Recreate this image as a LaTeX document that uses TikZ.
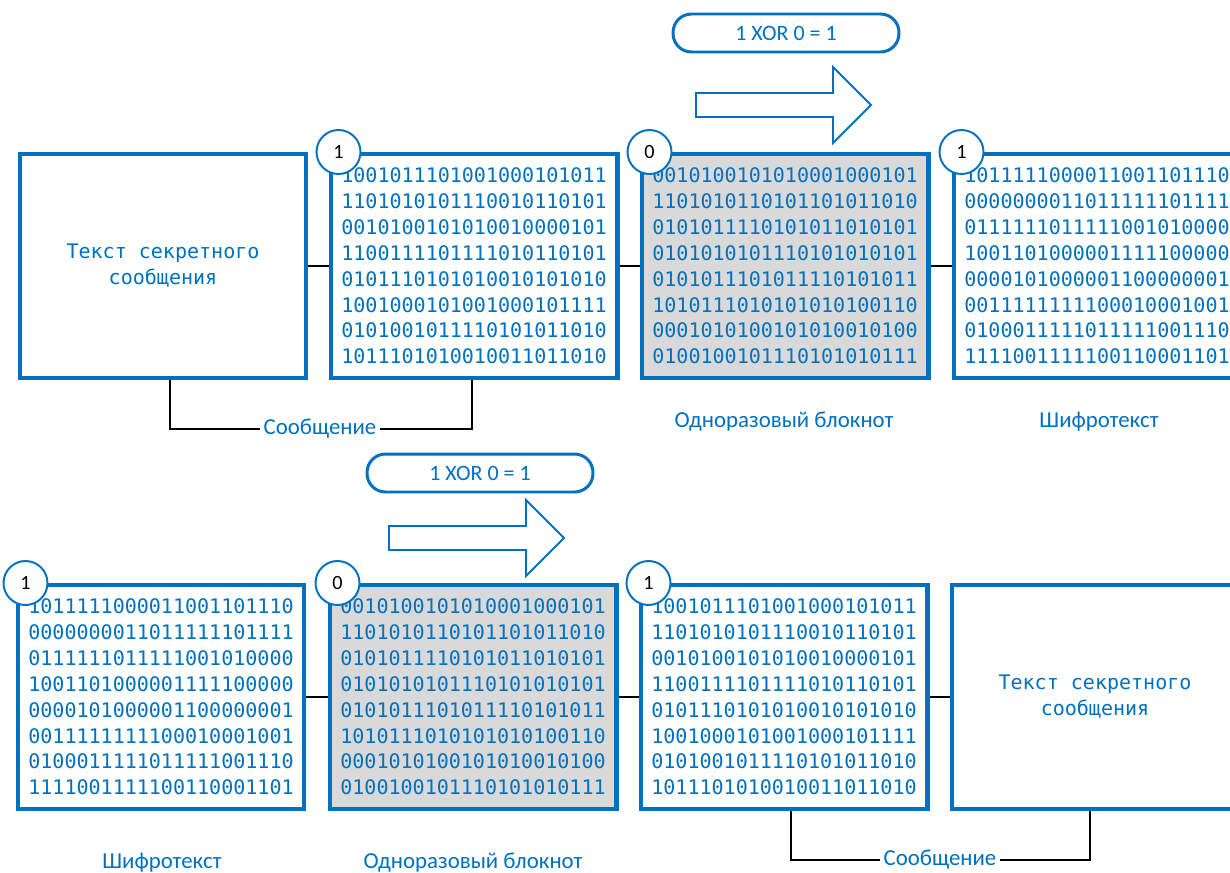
\documentclass[tikz,border=0pt]{standalone}
\usepackage{fontspec}
\setmainfont{Carlito}
\newfontfamily\bitfont{DejaVu Sans Mono}
\definecolor{xorblue}{HTML}{0070C0}
\definecolor{padgray}{HTML}{D9D9D9}

\newcommand{\plainbits}{1001011101001000101011\\1101010101110010110101\\0010100101010010000101\\1100111101111010110101\\0101110101010010101010\\1001000101001000101111\\0101001011110101011010\\1011101010010011011010}
\newcommand{\padbits}{0010100101010001000101\\1101010110101101011010\\0101011110101011010101\\0101010101110101010101\\0101011101011110101011\\1010111010101010100110\\0001010100101010010100\\0100100101110101010111}
\newcommand{\cipherbits}{1011111000011001101110\\0000000011011111101111\\0111111011111001010000\\1001101000001111100000\\0000101000001100000001\\0011111111100010001001\\0100011111011111001110\\1111001111100110001101}
\newcommand{\secrettext}{Текст секретного\\сообщения}

\tikzset{
  databox/.style={draw=xorblue, line width=2.3pt, fill=white, minimum width=5.74cm,
    minimum height=4.48cm, inner sep=0pt, text=xorblue, align=center,
    font=\bitfont\fontsize{11.4}{14.7}\selectfont},
  padbox/.style={databox, fill=padgray},
  bitmark/.style={circle, draw=xorblue, fill=white, line width=1.1pt,
    minimum size=0.88cm, inner sep=0pt, font=\fontsize{11.5}{13}\selectfont},
  link/.style={line width=1.1pt},
  caption/.style={text=xorblue, inner sep=2pt, font=\fontsize{13}{15}\selectfont},
  xorpill/.style={draw=xorblue, line width=1.7pt, rounded corners=0.37cm,
    minimum width=4.52cm, minimum height=0.76cm, text=xorblue,
    font=\fontsize{12.5}{15}\selectfont},
  flowarrow/.style={draw=xorblue, line width=1.1pt, fill=white}
}

\begin{document}
\begin{tikzpicture}[x=0.02cm, y=-0.02cm]
    \useasboundingbox (0,0) rectangle (1230,872);
    \clip (0,0) rectangle (1230,872);

    % XOR hint and direction arrows
    \foreach \i/\px/\py/\ax/\ay in {1/786/33/696/105, 2/480/473/389/538} {
        \node[xorpill] (xor\i) at (\px,\py) {1 XOR 0 = 1};
        \draw[flowarrow] (\ax,\ay) ++(0,-12) -- ++(137,0) -- ++(0,-26) -- ++(38,38)
            -- ++(-38,38) -- ++(0,-26) -- ++(-137,0) -- cycle;
    }

    % Encryption row
    \node[databox] (textA) at (163,266) {\secrettext};
    \node[databox] (plainA) at (474,266) {\plainbits};
    \node[padbox] (padA) at (785,266) {\padbits};
    \node[databox] (cipherA) at (1097,266) {\cipherbits};

    \draw[link] (textA.east) -- (plainA.west);
    \draw[link] (plainA.east) -- (padA.west);
    \draw[link] (padA.east) -- (cipherA.west);

    \node[bitmark] (markB) at ([xshift=0.2cm]plainA.north west) {1};
    \node[bitmark] (markC) at ([xshift=0.2cm]padA.north west) {0};
    \node[bitmark] (markD) at ([xshift=0.2cm]cipherA.north west) {1};

    \node[caption] (msgA) at (320,429) {Сообщение};
    \draw[link] ([xshift=0.14cm]textA.south) |- (msgA);
    \draw[link] (msgA) -| ([xshift=-0.04cm]plainA.south);
    \node[caption] (padlabA) at (784,422) {Одноразовый блокнот};
    \node[caption] (ciplabA) at (1099,422) {Шифротекст};

    % Decryption row
    \node[databox] (cipherB) at (161,697) {\cipherbits};
    \node[padbox] (padB) at (473,697) {\padbits};
    \node[databox] (plainB) at (784,697) {\plainbits};
    \node[databox] (textB) at (1095,697) {\secrettext};

    \draw[link] (cipherB.east) -- (padB.west);
    \draw[link] (padB.east) -- (plainB.west);
    \draw[link] (plainB.east) -- (textB.west);

    \node[bitmark] (markE) at ([xshift=0.2cm]cipherB.north west) {1};
    \node[bitmark] (markF) at ([xshift=0.2cm]padB.north west) {0};
    \node[bitmark] (markG) at ([xshift=0.2cm]plainB.north west) {1};

    \node[caption] (msgB) at (940,860) {Сообщение};
    \draw[link] ([xshift=0.14cm]plainB.south) |- (msgB);
    \draw[link] (msgB) -| ([xshift=-0.1cm]textB.south);
    \node[caption] (ciplabB) at (162,863) {Шифротекст};
    \node[caption] (padlabB) at (473,863) {Одноразовый блокнот};
\end{tikzpicture}
\end{document}
